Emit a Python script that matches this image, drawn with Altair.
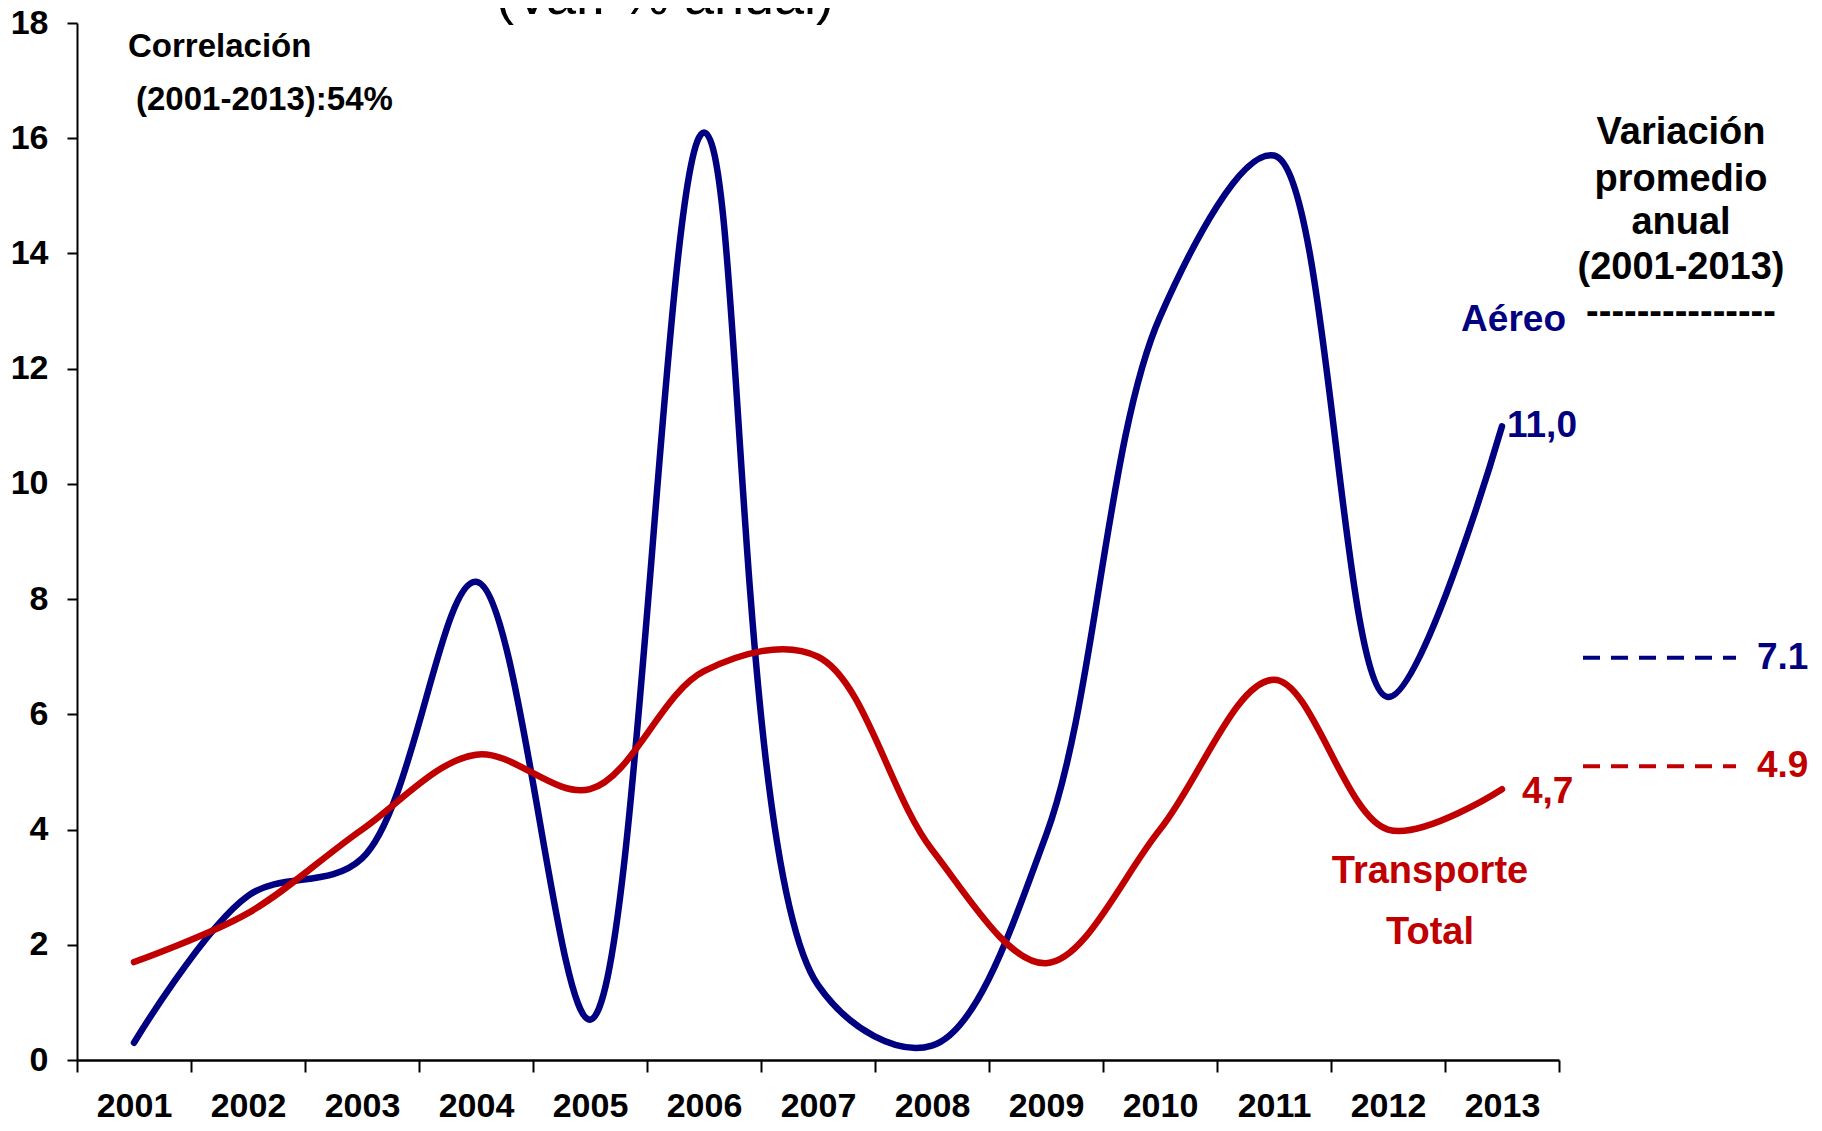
import altair as alt
import pandas as pd

# ---- data ----
years = [str(y) for y in range(2001, 2014)]
aereo = [0.3, 2.85, 3.5, 8.3, 0.7, 16.1, 1.3, 0.25, 3.9, 12.9, 15.7, 6.3, 11.0]
total = [1.7, 2.55, 4.0, 5.3, 4.7, 6.75, 7.0, 3.65, 1.68, 4.0, 6.6, 4.0, 4.7]
y_ticks = list(range(0, 19, 2))

end_labels = ["11,0", "4,7"]
end_values = [11.0, 4.7]

avg_labels = ["7.1", "4.9"]
avg_pos = [6.98, 5.1]

NAVY = "#000080"
RED = "#C00000"
FONT = "Liberation Sans"

W, H = 1482, 1037

df_a = pd.DataFrame({"year": years, "value": aereo})
df_t = pd.DataFrame({"year": years, "value": total})

xscale = alt.Scale(type="band", domain=years, paddingInner=0, paddingOuter=0)
yscale = alt.Scale(domain=[0, 18], nice=False, zero=True)

x_axis = alt.Axis(title=None, tickBand="extent", labelAngle=0, labelFont=FONT,
                  labelFontSize=34, labelFontWeight="bold", labelColor="black",
                  labelBaseline="top",
                  domainColor="black", domainWidth=2.5, tickColor="black",
                  tickWidth=2, tickSize=12, labelPadding=17, grid=False)
y_axis = alt.Axis(title=None, values=y_ticks, labelFont=FONT, labelFontSize=34,
                  labelFontWeight="bold", labelColor="black", domainColor="black",
                  domainWidth=2, tickColor="black", tickWidth=2, tickSize=10,
                  labelPadding=19, grid=False)

X = alt.X("year:O", scale=xscale, axis=x_axis)
Y = alt.Y("value:Q", scale=yscale, axis=y_axis)

line_a = alt.Chart(df_a).mark_line(interpolate="catmull-rom", strokeWidth=6.5,
                                   strokeCap="round", color=NAVY).encode(x=X, y=Y)
line_t = alt.Chart(df_t).mark_line(interpolate="catmull-rom", strokeWidth=6.5,
                                   strokeCap="round", color=RED).encode(x=X, y=Y)

df_end_a = pd.DataFrame({"year": ["2013"], "value": [end_values[0]], "label": [end_labels[0]]})
df_end_t = pd.DataFrame({"year": ["2013"], "value": [end_values[1]], "label": [end_labels[1]]})
end_a = alt.Chart(df_end_a).mark_text(
    align="left", baseline="middle", dx=5, dy=0, font=FONT, fontSize=37,
    fontWeight="bold", color=NAVY).encode(x=X, y=Y, text="label:N")
end_t = alt.Chart(df_end_t).mark_text(
    align="left", baseline="middle", dx=20, dy=3, font=FONT, fontSize=37,
    fontWeight="bold", color=RED).encode(x=X, y=Y, text="label:N")

df_avg = pd.DataFrame({"value": avg_pos, "label": avg_labels, "c": [NAVY, RED]})
avg_rules = alt.Chart(df_avg).mark_rule(strokeWidth=4, strokeDash=[17, 11]).encode(
    x=alt.value(1506), x2=alt.value(1659), y=Y,
    color=alt.Color("c:N", scale=None))
avg_text = alt.Chart(df_avg).mark_text(
    align="left", baseline="middle", font=FONT, fontSize=37, fontWeight="bold").encode(
    x=alt.value(1680), y=Y, color=alt.Color("c:N", scale=None), text="label:N")

# pixel-placed annotations
ann = pd.DataFrame([
    {"t": "Correlación", "x": 51, "y": 24, "c": "black", "a": "left", "s": 33},
    {"t": "(2001-2013):54%", "x": 59, "y": 77, "c": "black", "a": "left", "s": 33},
    {"t": "Variación", "x": 1604, "y": 110, "c": "black", "a": "center", "s": 38},
    {"t": "promedio", "x": 1604, "y": 157, "c": "black", "a": "center", "s": 38},
    {"t": "anual", "x": 1604, "y": 200, "c": "black", "a": "center", "s": 38},
    {"t": "(2001-2013)", "x": 1604, "y": 245, "c": "black", "a": "center", "s": 38},
    {"t": "---------------", "x": 1604, "y": 290, "c": "black", "a": "center", "s": 38},
    {"t": "Aéreo", "x": 1489, "y": 297, "c": NAVY, "a": "right", "s": 37},
    {"t": "Transporte", "x": 1353, "y": 849, "c": RED, "a": "center", "s": 38},
    {"t": "Total", "x": 1353, "y": 910, "c": RED, "a": "center", "s": 38},
])

ann_layers = []
for _, r in ann.iterrows():
    ann_layers.append(
        alt.Chart(pd.DataFrame({"t": [r["t"]]})).mark_text(
            align=r["a"], baseline="middle", font=FONT, fontSize=int(r["s"]),
            fontWeight="bold", color=r["c"]).encode(
            x=alt.value(int(r["x"])), y=alt.value(int(r["y"])), text="t:N"))

title = alt.Chart(pd.DataFrame({"t": ["(Var. % anual)"]})).mark_text(
    align="center", baseline="alphabetic", font=FONT, fontSize=54, color="black").encode(
    x=alt.value(588), y=alt.value(-9), text="t:N")

chart = alt.layer(line_a, line_t, end_a, end_t, avg_rules, avg_text, title, *ann_layers).properties(
    width=W, height=H,
    padding={"left": 69, "top": 15, "right": 255, "bottom": 63},
    autosize=alt.AutoSizeParams(type="none"),
).configure_view(stroke=None)

chart.save("out.html", embed_options={"renderer": "svg", "actions": False})
